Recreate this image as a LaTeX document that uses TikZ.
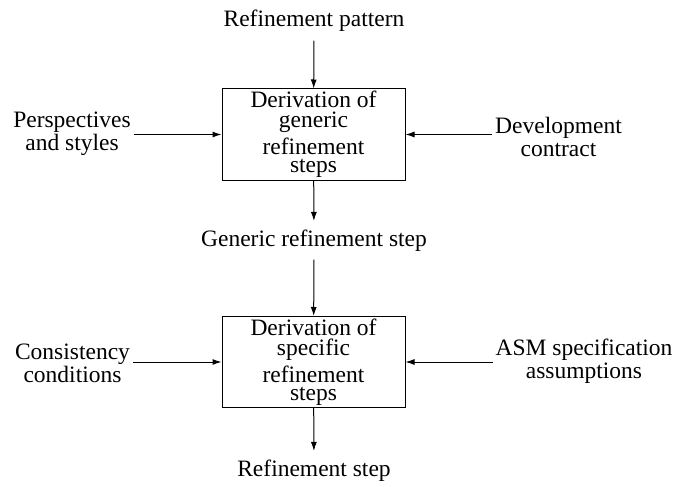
\documentclass[tikz,border=0pt]{standalone}
\usepackage{fontspec}
\setmainfont{Liberation Serif}
\usetikzlibrary{arrows.meta}
\newcommand{\Mid}{313.5}
\newcommand{\TopRow}{134.5}
\newcommand{\LowRow}{362}

\begin{document}
\begin{tikzpicture}[x=1pt, y=-1pt, line width=1pt,
    sidetext/.style={font=\fontsize{23.5}{23}\selectfont, align=center, inner sep=2.5pt},
    flowtext/.style={font=\fontsize{23.5}{23}\selectfont, inner sep=8pt, anchor=base},
    stepbox/.style={draw, minimum width=183pt, minimum height=91pt, inner sep=0pt,
      align=center, font=\fontsize{23.5}{20}\selectfont},
    flow/.style={-{Latex[length=9pt, width=6pt]}},
  ]
\useasboundingbox (0,0) rectangle (675,487);

% --- The two derivation steps ------------------------------------------------------------
\node[stepbox] (generic) at (\Mid,\TopRow) {Derivation of\\generic\\[4pt]refinement\\[-2pt]steps};
\node[stepbox] (specific) at (\Mid,\LowRow) {Derivation of\\specific\\[4pt]refinement\\[-2pt]steps};

% --- What flows down the middle --------------------------------------------------------------
\node[flowtext] (pattern) at (314,27) {Refinement pattern};
\node[flowtext] (genstep) at (314,246) {Generic refinement step};
\node[flowtext] (refstep) at (314,476) {Refinement step};

% --- Inputs from the sides -------------------------------------------------------------------
\node[sidetext] (persp) at (72,134) {Perspectives\\and styles};
\node[sidetext] (contract) at (558.5,137) {Development\\contract};
\node[sidetext] (consist) at (72.5,363) {Consistency\\conditions};
\node[sidetext] (asm) at (584,361) {ASM specification\\assumptions};

% --- Arrows ------------------------------------------------------------------------------------
\draw[flow] (pattern) -- (generic);
\draw[flow] (generic) -- (genstep);
\draw[flow] (genstep) -- (specific);
\draw[flow] (specific) -- (refstep);
\draw[flow] (persp.east |- generic.west) -- (generic.west);
\draw[flow] (contract.west |- generic.east) -- (generic.east);
\draw[flow] (consist.east |- specific.west) -- (specific.west);
\draw[flow] (asm.west |- specific.east) -- (specific.east);
\end{tikzpicture}
\end{document}
